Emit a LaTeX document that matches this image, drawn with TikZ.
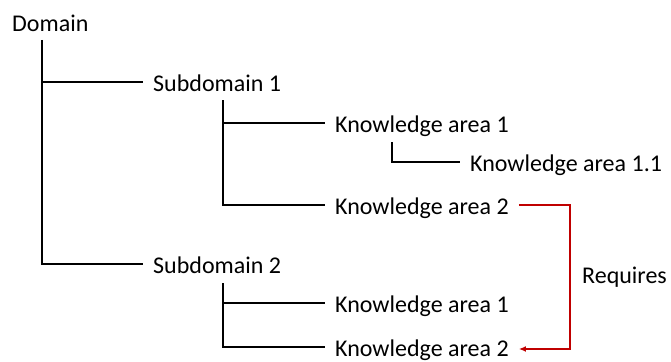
\documentclass[tikz,border=0pt]{standalone}
\usepackage{fontspec}
\setmainfont{Carlito}
\usetikzlibrary{arrows.meta}
\definecolor{reqred}{RGB}{192,0,0}
\begin{document}
\begin{tikzpicture}[x=1pt,y=-1pt,
  lbl/.style={anchor=west,inner ysep=0pt,inner xsep=10pt,text height=19pt,text depth=0pt,font=\fontsize{24}{28}\selectfont},
  treeline/.style={line width=2.4pt,black},
  reqline/.style={line width=1.6pt,reqred}]
\useasboundingbox (0,0) rectangle (671,361);
% nodes
\node[anchor=base west,inner sep=0pt,font=\fontsize{24}{28}\selectfont] (dom) at (12,32) {Domain};
\node[lbl] (sd1) at (143,82) {Subdomain 1};
\node[lbl] (sd2) at (143,264) {Subdomain 2};
\node[lbl] (ka1) at (325,123) {Knowledge area 1};
\node[lbl] (ka2) at (325,205) {Knowledge area 2};
\node[lbl] (ka11) at (460,162) {Knowledge area 1.1};
\node[lbl] (kb1) at (325,303) {Knowledge area 1};
\node[lbl] (kb2) at (325,347) {Knowledge area 2};
\node[anchor=base west,inner sep=0pt,font=\fontsize{24}{28}\selectfont] (req) at (582,283) {Requires};
% coordinates
\coordinate (d0) at (42,40);
\coordinate (s10) at (223,100);
\coordinate (k10) at (392,142);
\coordinate (s20) at (223,283);
% tree lines
\draw[treeline] (d0) |- (sd2.west);
\draw[treeline] (d0 |- sd1.west) -- (sd1.west);
\draw[treeline] (s10) |- (ka2.west);
\draw[treeline] (s10 |- ka1.west) -- (ka1.west);
\draw[treeline] (k10) |- (ka11.west);
\draw[treeline] (s20) |- (kb2.west);
\draw[treeline] (s20 |- kb1.west) -- (kb1.west);
% requires arrow
\coordinate (rc) at (570,205);
\draw[reqline,-{Latex[length=7pt,width=6pt]}] (ka2.east) -- (rc) |- ([yshift=-2pt]kb2.east);
\end{tikzpicture}
\end{document}
